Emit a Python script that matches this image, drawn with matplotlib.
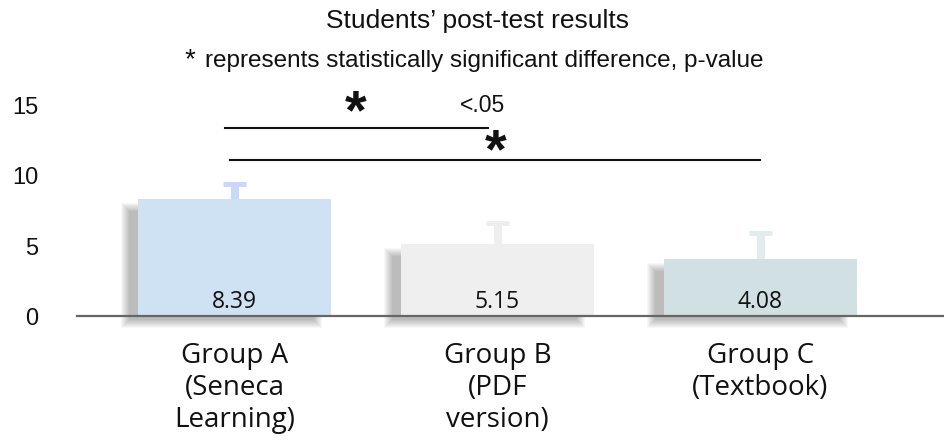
import matplotlib
matplotlib.use("Agg")
import matplotlib.pyplot as plt
from matplotlib import transforms

# data
groups = ["Group A\n(Seneca\nLearning)", "Group B\n(PDF\nversion)", "Group C\n(Textbook)"]
means = [8.39, 5.15, 4.08]
errors = [1.04, 1.46, 1.82]
yticks = [0, 5, 10, 15]

bar_colors = ["#cfe2f3", "#efefef", "#d0e0e3"]
err_colors = ["#c9daf8", "#eeeeee", "#e2ecef"]

W, H = 944, 440
fig = plt.figure(figsize=(W / 100, H / 100), dpi=100)

# axes box in pixels: x 77..943, y(top) 0..316
px_per_unit = 14.0
base_px = 316
ax = fig.add_axes([77 / W, (H - base_px) / H, (943 - 77) / W, base_px / H])
ax.set_ylim(0, base_px / px_per_unit)
step = 263.0
ax.set_xlim(-(234.5 - 77) / step, (943 - 234.5) / step)

x = list(range(len(groups)))
width = 193 / step

# soft drop shadow: stacked translucent rectangles growing by 1px (cheap blur)
shadow_tr = transforms.offset_copy(ax.transData, fig, x=-13, y=-8, units="dots")
for d in range(-4, 5):
    dx, dy = d / step, d / px_per_unit
    ax.bar(x, [m + 2 * dy for m in means], width + 2 * dx, bottom=-dy,
           color="#000000", edgecolor="none", alpha=0.032,
           transform=shadow_tr, zorder=1, clip_on=False)

ax.bar(x, means, width, color=bar_colors, zorder=2)

# upper-only error bars: stem + cap
cap_half = 11.5 / step
for xi, m, e, c in zip(x, means, errors, err_colors):
    ax.vlines(xi, m, m + e, color=c, lw=5.8, zorder=1.5)
    ax.hlines(m + e, xi - cap_half, xi + cap_half, color=c, lw=3.6, zorder=1.5)

for xi, m in zip(x, means):
    ax.annotate(f"{m:.2f}", (xi, 0), xytext=(0, 5.8), textcoords="offset points",
                ha="center", va="baseline", fontsize=16.5, family="Open Sans",
                color="#111111", zorder=3)

# significance brackets
ax.plot([-0.036, 0.964], [(base_px - 128) / px_per_unit] * 2, color="#111111", lw=1.5, zorder=3)
ax.plot([-0.017, 1.998], [(base_px - 160) / px_per_unit] * 2, color="#111111", lw=1.5, zorder=3)

for s in ["top", "right", "left"]:
    ax.spines[s].set_visible(False)
ax.spines["bottom"].set_color("#666666")
ax.spines["bottom"].set_linewidth(1.6)
ax.spines["bottom"].set_zorder(2.5)

ax.set_yticks(yticks)
ax.set_yticklabels([str(t) for t in yticks], fontsize=17, family="Liberation Sans", color="#111111")
ax.tick_params(axis="y", length=0, pad=28)
ax.set_xticks(x)
ax.set_xticklabels(groups, fontsize=20, family="Open Sans", color="#111111", linespacing=1.17)
ax.tick_params(axis="x", length=0, pad=19)


def ftext(px, py, s, **kw):
    fig.text(px / W, 1 - py / H, s, **kw)


ftext(477, 28, "Students\u2019 post-test results", ha="center", va="baseline",
      fontsize=19, family="Liberation Sans", color="#111111")
ftext(185, 67, "*", ha="left", va="baseline", fontsize=20, family="Liberation Sans", color="#111111")
ftext(205, 67, "represents statistically significant difference, p-value", ha="left",
      va="baseline", fontsize=17.5, family="Liberation Sans", color="#111111")
ftext(460, 112, "<.05", ha="left", va="baseline", fontsize=16.5, family="Liberation Sans", color="#111111")
ftext(356, 114, "*", ha="center", va="center", fontsize=40, fontweight="semibold",
      family="Liberation Sans", color="#111111")
ftext(496, 153, "*", ha="center", va="center", fontsize=40, fontweight="semibold",
      family="Liberation Sans", color="#111111")

fig.savefig("out.png", dpi=100)
